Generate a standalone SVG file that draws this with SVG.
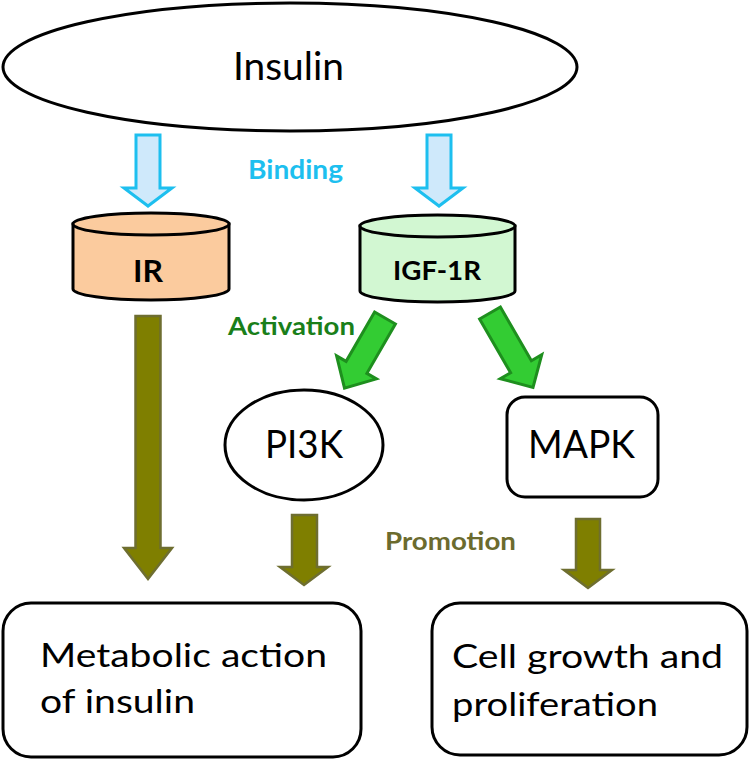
<svg xmlns="http://www.w3.org/2000/svg" width="750" height="761" viewBox="0 0 750 761">
<style>
text{font-family:Lato,"Liberation Sans",sans-serif;fill:#000}
.node{fill:#fff;stroke:#000;stroke-width:3}
.lbl{font-size:38px;text-anchor:middle}
.big{font-size:32px}
.bold{font-weight:bold}
.blue{fill:#cfe9fb;stroke:#1dbfef;stroke-width:3;stroke-linejoin:miter}
.green{fill:#33cc33;stroke:#1e8f1e;stroke-width:3;stroke-linejoin:miter}
.olive{fill:#7f7f00;stroke:#6e6e30;stroke-width:2.5;stroke-linejoin:miter}
</style>
<rect width="750" height="761" fill="#fff"/>
<g id="insulin">
<ellipse class="node" cx="290" cy="67" rx="287" ry="64"/>
<text class="lbl" x="288.5" y="80" textLength="111" lengthAdjust="spacingAndGlyphs">Insulin</text>
</g>
<g id="ir">
<path d="M73,224 L73,289 A78,11 0 0 0 229,289 L229,224 Z" fill="#fbcb9e" stroke="#000" stroke-width="3"/>
<ellipse cx="151" cy="224" rx="78" ry="11" fill="#fbcb9e" stroke="#000" stroke-width="3"/>
<text class="bold" x="148" y="282" font-size="30" text-anchor="middle" textLength="30" lengthAdjust="spacingAndGlyphs">IR</text>
</g>
<g id="igf1r">
<path d="M360,226 L360,291 A77.5,11 0 0 0 515,291 L515,226 Z" fill="#d2f7d2" stroke="#000" stroke-width="3"/>
<ellipse cx="437.5" cy="226" rx="77.5" ry="11" fill="#d2f7d2" stroke="#000" stroke-width="3"/>
<text class="bold" x="437" y="280" font-size="27" text-anchor="middle" textLength="88" lengthAdjust="spacingAndGlyphs">IGF-1R</text>
</g>
<g id="pi3k">
<ellipse class="node" cx="304" cy="445" rx="79" ry="55"/>
<text class="lbl" x="304" y="458" textLength="78" lengthAdjust="spacingAndGlyphs">PI3K</text>
</g>
<g id="mapk">
<rect class="node" x="507" y="397" width="151" height="100" rx="18"/>
<text class="lbl" x="581.5" y="458" textLength="107" lengthAdjust="spacingAndGlyphs">MAPK</text>
</g>
<g id="metabolic">
<rect class="node" x="3" y="603" width="358" height="154" rx="28"/>
<text class="big" x="40" y="667" textLength="287" lengthAdjust="spacingAndGlyphs">Metabolic action</text>
<text class="big" x="40" y="713" textLength="155" lengthAdjust="spacingAndGlyphs">of insulin</text>
</g>
<g id="growth">
<rect class="node" x="432" y="603" width="315" height="152" rx="28"/>
<text class="big" x="452" y="668" textLength="271" lengthAdjust="spacingAndGlyphs">Cell growth and</text>
<text class="big" x="452" y="716" textLength="206" lengthAdjust="spacingAndGlyphs">proliferation</text>
</g>
<g id="connectors">
<path class="blue" d="M136,135 L160,135 L160,188 L172,188 L148,206 L124,188 L136,188 Z"/>
<path class="blue" d="M427,135 L451,135 L451,188 L463,188 L439,206 L415,188 L427,188 Z"/>
<text class="bold" x="248" y="179" font-size="26" fill="#1dbfef" style="fill:#1dbfef" textLength="95" lengthAdjust="spacingAndGlyphs">Binding</text>
<path class="green" transform="translate(385,318) rotate(30)" d="M-12,0 L12,0 L12,57 L23,57 L0,81 L-23,57 L-12,57 Z"/>
<path class="green" transform="translate(490,313) rotate(-30)" d="M-12,0 L12,0 L12,62 L24,62 L0,86 L-24,62 L-12,62 Z"/>
<text class="bold" x="228" y="335" font-size="24" style="fill:#1a7f1a" textLength="127" lengthAdjust="spacingAndGlyphs">Activation</text>
<path class="olive" d="M135.5,316 L160.5,316 L160.5,548 L172,548 L148,579 L124,548 L135.5,548 Z"/>
<path class="olive" d="M292,515 L317,515 L317,567 L328,567 L304,585 L280,567 L292,567 Z"/>
<path class="olive" d="M576,519 L600,519 L600,570 L612,570 L588,588 L564,570 L576,570 Z"/>
<text class="bold" x="385" y="550" font-size="24" style="fill:#6b6b2e" textLength="131" lengthAdjust="spacingAndGlyphs">Promotion</text>
</g>
</svg>
